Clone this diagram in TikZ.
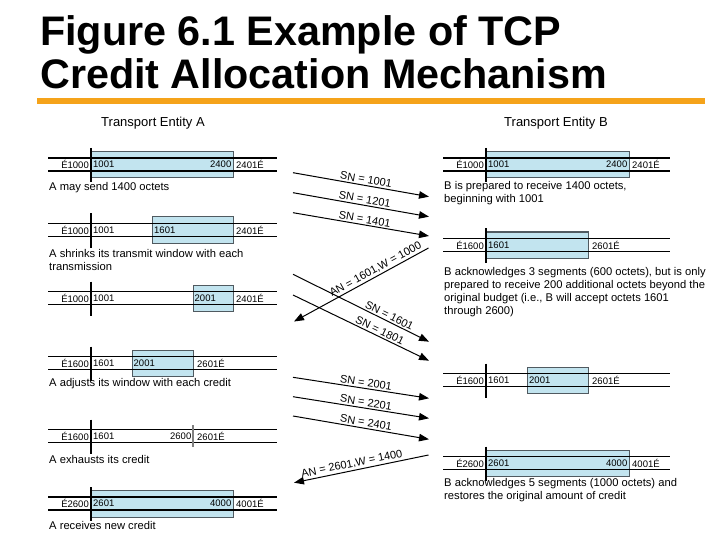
\documentclass[tikz,border=0pt]{standalone}
\usepackage{fontspec}
\setmainfont{Liberation Sans}
\usetikzlibrary{arrows.meta}
\definecolor{orangeline}{HTML}{F5A31A}
\definecolor{winfill}{HTML}{C2E4EF}
\definecolor{winedge}{HTML}{505A60}
\tikzset{
  barline/.style={line width=1.8pt, black},
  winboxstyle/.style={fill=winfill, draw=winedge, line width=1pt},
  tickmark/.style={line width=1.8pt, black},
  graytick/.style={line width=1.2pt, gray},
  num/.style={font=\fontsize{9.5}{11}\selectfont, inner sep=0pt},
  capt/.style={font=\fontsize{11.2}{13}\selectfont, align=left, anchor=west, inner sep=0pt},
  head/.style={font=\fontsize{13}{15}\selectfont, inner sep=0pt},
  msg/.style={line width=1pt, -{Triangle[length=10pt,width=7.5pt]}},
  msglabel/.style={font=\fontsize{11}{13}\selectfont, sloped, above, inner sep=1.5pt},
}
\newcommand\winlines[4]{%
  \draw[barline] (#1,#3) -- (#2,#3) (#1,#3+13) -- (#2,#3+13);
  \draw[tickmark] (#4,#3-10) -- (#4,#3+24);}
\newcommand\winrect[3]{\draw[winboxstyle] (#1,#3-6.5) rectangle (#2,#3+20);}
\begin{document}
\begin{tikzpicture}[x=1pt,y=-1pt]
\useasboundingbox (0,0) rectangle (720,540);
% title
\node[anchor=base west, inner sep=0pt, font=\fontsize{41.3}{43}\bfseries] (t1) at (40,46) {Figure 6.1 Example of TCP};
\node[anchor=base west, inner sep=0pt, font=\fontsize{41.3}{43}\bfseries] (t2) at (40,89) {Credit Allocation Mechanism};
\draw[orangeline, line width=6pt] (37,101) -- (705,101);
% headers
\node[head] (ha) at (153,123) {Transport Entity A};
\node[head] (hb) at (556,123) {Transport Entity B};

% ---------- Entity A ----------
% row 1
\winrect{91}{233}{158}
\winlines{48}{277}{158}{91}
\node[num, anchor=east] (a1p) at (89,164.5) {É1000};
\node[num, anchor=west] (a1q) at (93,164.5) {1001};
\node[num, anchor=east] (a1r) at (231.5,164.5) {2400};
\node[num, anchor=west] (a1s) at (236,164.5) {2401É};
\node[capt] (a1c) at (49,188) {A may send 1400 octets};
% row 2
\winrect{152}{233}{223.5}
\winlines{48}{277}{223.5}{91}
\node[num, anchor=east] (a2p) at (89,230) {É1000};
\node[num, anchor=west] (a2q) at (93,230) {1001};
\node[num, anchor=west] (a2r) at (154,230) {1601};
\node[num, anchor=west] (a2s) at (236,230) {2401É};
\node[capt] (a2c) at (49,259.5) {A shrinks its transmit window with each\\transmission};
% row 3
\winrect{193}{233}{291.5}
\winlines{48}{277}{291.5}{91}
\node[num, anchor=east] (a3p) at (89,298) {É1000};
\node[num, anchor=west] (a3q) at (93,298) {1001};
\node[num, anchor=west] (a3r) at (194.5,298) {2001};
\node[num, anchor=west] (a3s) at (236,298) {2401É};
% row 4
\winrect{132}{193}{356.5}
\winlines{48}{277}{356.5}{91}
\node[num, anchor=east] (a4p) at (89,363) {É1600};
\node[num, anchor=west] (a4q) at (93,363) {1601};
\node[num, anchor=west] (a4r) at (133.5,363) {2001};
\node[num, anchor=west] (a4s) at (197,363) {2601É};
\node[capt] (a4c) at (49,384) {A adjusts its window with each credit};
% row 5
\winlines{48}{277}{429.5}{91}
\draw[graytick] (193,425) -- (193,447);
\node[num, anchor=east] (a5p) at (89,436) {É1600};
\node[num, anchor=west] (a5q) at (93,436) {1601};
\node[num, anchor=east] (a5r) at (191.5,436) {2600};
\node[num, anchor=west] (a5s) at (197,436) {2601É};
\node[capt] (a5c) at (49,459) {A exhausts its credit};
% row 6
\winrect{91}{233}{497}
\winlines{48}{277}{497}{91}
\node[num, anchor=east] (a6p) at (89,503.5) {É2600};
\node[num, anchor=west] (a6q) at (93,503.5) {2601};
\node[num, anchor=east] (a6r) at (231.5,503.5) {4000};
\node[num, anchor=west] (a6s) at (236,503.5) {4001É};
\node[capt] (a6c) at (49,525) {A receives new credit};

% ---------- Entity B ----------
% row 1
\winrect{486}{629}{158}
\winlines{443}{670}{158}{486}
\node[num, anchor=east] (b1p) at (484,164.5) {É1000};
\node[num, anchor=west] (b1q) at (488,164.5) {1001};
\node[num, anchor=east] (b1r) at (627.5,164.5) {2400};
\node[num, anchor=west] (b1s) at (632,164.5) {2401É};
\node[capt] (b1c) at (444,193.5) {B is prepared to receive 1400 octets,\\beginning with 1001};
% row 2
\winrect{486}{588}{238.5}
\winlines{443}{670}{238.5}{486}
\node[num, anchor=east] (b2p) at (484,245) {É1600};
\node[num, anchor=west] (b2q) at (488,245) {1601};
\node[num, anchor=west] (b2s) at (592,245) {2601É};
\node[capt] (b2c) at (444,292) {B acknowledges 3 segments (600 octets), but is only\\prepared to receive 200 additional octets beyond the\\original budget (i.e., B will accept octets 1601\\through 2600)};
% row 3
\winrect{527}{588}{373.5}
\winlines{443}{670}{373.5}{486}
\node[num, anchor=east] (b3p) at (484,380) {É1600};
\node[num, anchor=west] (b3q) at (488,380) {1601};
\node[num, anchor=west] (b3r) at (529,380) {2001};
\node[num, anchor=west] (b3s) at (592,380) {2601É};
% row 4
\winrect{486}{629}{456.5}
\winlines{443}{670}{456.5}{486}
\node[num, anchor=east] (b4p) at (484,463) {É2600};
\node[num, anchor=west] (b4q) at (488,463) {2601};
\node[num, anchor=east] (b4r) at (627.5,463) {4000};
\node[num, anchor=west] (b4s) at (632,463) {4001É};
\node[capt] (b4c) at (444,490) {B acknowledges 5 segments (1000 octets) and\\restores the original amount of credit};

% ---------- messages ----------
\coordinate (s1a) at (293,172.7);  \coordinate (s1b) at (429,196.7);
\coordinate (s2a) at (293,192.7);  \coordinate (s2b) at (429,216.7);
\coordinate (s3a) at (293,212.7);  \coordinate (s3b) at (429,236);
\coordinate (n1a) at (428.5,248);  \coordinate (n1b) at (294,321.5);
\coordinate (s4a) at (293,274.3);  \coordinate (s4b) at (429,341.7);
\coordinate (s5a) at (293,295);    \coordinate (s5b) at (429,360.7);
\coordinate (s6a) at (293,377.3);  \coordinate (s6b) at (429,398.3);
\coordinate (s7a) at (293,396.7);  \coordinate (s7b) at (429,418.3);
\coordinate (s8a) at (293,416);    \coordinate (s8b) at (429,439.3);
\coordinate (n2a) at (428.5,455);  \coordinate (n2b) at (294,482.7);

\draw[msg] (s1a) -- node[msglabel, pos=0.53] (l1) {SN = 1001} (s1b);
\draw[msg] (s2a) -- node[msglabel, pos=0.52] (l2) {SN = 1201} (s2b);
\draw[msg] (s3a) -- node[msglabel, pos=0.52] (l3) {SN = 1401} (s3b);
\draw[msg] (n1a) -- node[msglabel, pos=0.37] (l4) {AN = 1601,W = 1000} (n1b);
\draw[msg] (s4a) -- node[msglabel, pos=0.69] (l5) {SN = 1601} (s4b);
\draw[msg] (s5a) -- node[msglabel, pos=0.62] (l6) {SN = 1801} (s5b);
\draw[msg] (s6a) -- node[msglabel, pos=0.53] (l7) {SN = 2001} (s6b);
\draw[msg] (s7a) -- node[msglabel, pos=0.53] (l8) {SN = 2201} (s7b);
\draw[msg] (s8a) -- node[msglabel, pos=0.53] (l9) {SN = 2401} (s8b);
\draw[msg] (n2a) -- node[msglabel, pos=0.56] (l10) {AN = 2601,W = 1400} (n2b);
\end{tikzpicture}
\end{document}
